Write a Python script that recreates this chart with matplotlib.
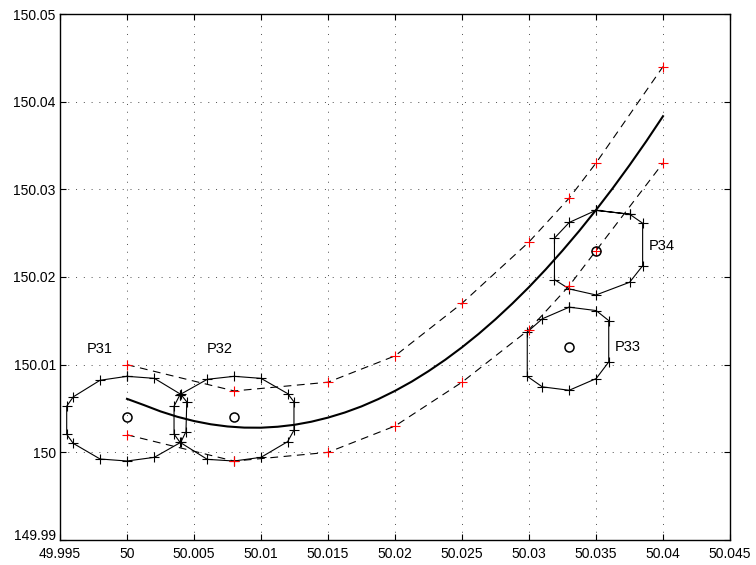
import matplotlib
matplotlib.use("Agg")
import matplotlib.pyplot as plt

plt.rcParams['font.family'] = ['Liberation Sans', 'DejaVu Sans']

# polygon vertices
p31_x = [50.0, 50.00204, 50.00401, 50.00446, 50.0044, 50.00401, 50.00204, 50.0,
         49.99799, 49.99599, 49.9955, 49.9955, 49.99599, 49.99799, 50.0]
p31_y = [150.00867, 150.00844, 150.00662, 150.00576, 150.00235, 150.00114, 149.99943, 149.99901,
         149.99924, 150.00102, 150.00205, 150.00526, 150.00633, 150.00822, 150.00867]

p32_x = [50.00396, 50.00599, 50.00799, 50.01, 50.01199, 50.01246, 50.01246, 50.01199,
         50.01, 50.00799, 50.00599, 50.00396, 50.00351, 50.00351, 50.00396]
p32_y = [150.00659, 150.00833, 150.00867, 150.00844, 150.0067, 150.00576, 150.00253, 150.00122,
         149.99943, 149.99901, 149.9992, 150.00114, 150.00208, 150.00526, 150.00659]

p33_x = [50.033, 50.03501, 50.03595, 50.03595, 50.03501, 50.033, 50.03099, 50.02987,
         50.02987, 50.03099, 50.033]
p33_y = [150.01656, 150.01617, 150.01503, 150.01031, 150.00841, 150.00708, 150.00747, 150.00867,
         150.01372, 150.01523, 150.01656]

p34_x = [50.035, 50.03751, 50.03848, 50.03848, 50.03751, 50.035, 50.033, 50.0319,
         50.0319, 50.033, 50.035, 50.03751]
p34_y = [150.02761, 150.02716, 150.02614, 150.02128, 150.0194, 150.01795, 150.01864, 150.0197,
         150.02443, 150.02622, 150.02761, 150.02716]

centers_x = [50.0, 50.008, 50.033, 50.035]
centers_y = [150.004, 150.004, 150.012, 150.023]
names = ['P31', 'P32', 'P33', 'P34']
label_x = [49.998, 50.0069, 50.0374, 50.0399]
label_y = [150.0118, 150.0118, 150.012, 150.0235]

# bounds (dashed) through the red points
bx = [50.0, 50.008, 50.015, 50.02, 50.025, 50.03, 50.033, 50.035, 50.04]
upper_y = [150.01, 150.007, 150.008, 150.011, 150.017, 150.024, 150.029, 150.033, 150.044]
lower_y = [150.002, 149.999, 150.0, 150.003, 150.008, 150.014, 150.019, 150.023, 150.033]

# main trajectory, read every 0.00125
traj_x = [50.0, 50.00125, 50.0025, 50.00375, 50.005, 50.00625, 50.0075, 50.00875,
          50.01, 50.01125, 50.0125, 50.01375, 50.015, 50.01625, 50.0175, 50.01875,
          50.02, 50.02125, 50.0225, 50.02375, 50.025, 50.02625, 50.0275, 50.02875,
          50.03, 50.03125, 50.0325, 50.03375, 50.035, 50.03625, 50.0375, 50.03875, 50.04]
traj_y = [150.0061, 150.0054, 150.00467, 150.00406, 150.00357, 150.0032, 150.00295, 150.00282,
          150.00281, 150.00292, 150.00314, 150.00349, 150.00396, 150.00454, 150.00524, 150.00607,
          150.00701, 150.00807, 150.00926, 150.01056, 150.01198, 150.01352, 150.01518, 150.01696,
          150.01885, 150.02087, 150.02301, 150.02526, 150.02764, 150.03013, 150.03275, 150.03548,
          150.03834]

fig = plt.figure(figsize=(7.56, 5.65), dpi=100)
ax = fig.add_axes([60 / 756, 1 - 540 / 565, 670 / 756, 526 / 565])

for px, py in [(p31_x, p31_y), (p32_x, p32_y), (p33_x, p33_y), (p34_x, p34_y)]:
    ax.plot(px, py, 'k-', marker='+', markersize=7, markeredgewidth=0.8, linewidth=0.8)

ax.plot(bx, upper_y, 'k', linestyle=(0, (7, 5)), linewidth=0.8)
ax.plot(bx, lower_y, 'k', linestyle=(0, (7, 5)), linewidth=0.8)
ax.plot(bx, upper_y, 'r+', markersize=7.5, markeredgewidth=0.8, linestyle='none')
ax.plot(bx, lower_y, 'r+', markersize=7.5, markeredgewidth=0.8, linestyle='none')

ax.plot(traj_x, traj_y, 'k-', linewidth=1.5)
ax.plot(centers_x, centers_y, 'ko', markerfacecolor='none', markersize=6.5, markeredgewidth=1.1)

for n, tx, ty in zip(names, label_x, label_y):
    ax.text(tx, ty, n, fontsize=10.5, ha='center', va='center')

ax.set_xlim(49.995, 50.045)
ax.set_ylim(149.99, 150.05)
xt = [49.995, 50, 50.005, 50.01, 50.015, 50.02, 50.025, 50.03, 50.035, 50.04, 50.045]
yt = [149.99, 150, 150.01, 150.02, 150.03, 150.04, 150.05]
ax.set_xticks(xt)
ax.set_xticklabels(['49.995', '50', '50.005', '50.01', '50.015', '50.02', '50.025',
                    '50.03', '50.035', '50.04', '50.045'])
ax.set_yticks(yt)
ax.set_yticklabels(['149.99', '150', '150.01', '150.02', '150.03', '150.04', '150.05'])
ax.tick_params(direction='in', top=True, right=True, length=4, width=0.8, labelsize=10)
ax.tick_params(axis='x', pad=5)
ax.tick_params(axis='y', pad=3)
# lowest y label sits on the axis line so it clears the x labels
ax.get_yticklabels()[0].set_va('baseline')
ax.grid(True, color='0.3', linestyle=(0, (1, 7)), linewidth=0.7)
for s in ax.spines.values():
    s.set_linewidth(1.0)

fig.savefig('out.png', dpi=100)
